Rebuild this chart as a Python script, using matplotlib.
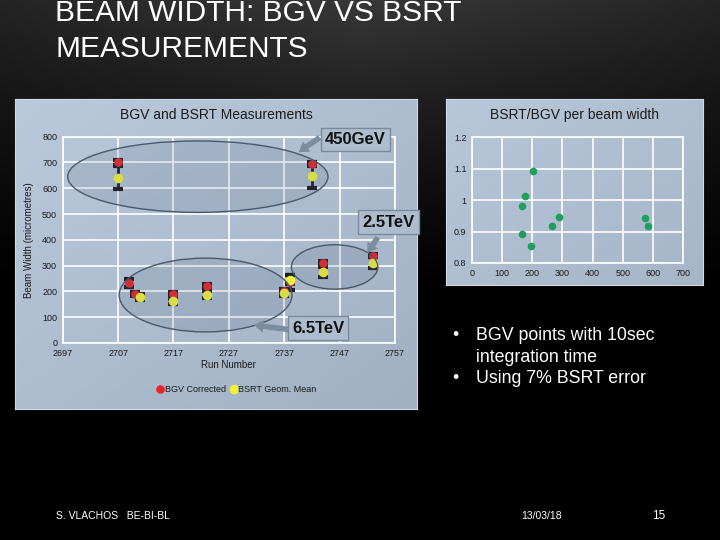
import numpy as np
import matplotlib
matplotlib.use("Agg")
import matplotlib.pyplot as plt
from matplotlib.patches import Ellipse

plt.rcParams["font.family"] = ["Liberation Sans", "DejaVu Sans"]

# left chart: BGV vs BSRT per run
runs = [2707, 2742, 2709, 2710, 2711, 2717, 2723, 2737, 2738, 2744, 2753]
bgv = [700, 693, 232, 191, np.nan, 191, 222, 200, 235, 310, 339]
bgv_err = [10, 8, 15, 8, 0, 8, 6, 8, 30, 8, 6]
bsrt = [641, 648, np.nan, np.nan, 178, 161, 187, 194, 245, 277, 312]
bsrt_err_frac = 0.07

# right chart: ratio vs beam width
width = [202, 175, 165, 167, 195, 264, 287, 575, 583]
ratio = [1.093, 1.013, 0.982, 0.893, 0.853, 0.919, 0.947, 0.943, 0.919]

# energy groups: (label, centre x, centre y, width, height)
groups = [
    ("450GeV", 2721.4, 645, 47.0, 277),
    ("6.5TeV", 2722.8, 186, 31.2, 286),
    ("2.5TeV", 2746.1, 295, 15.6, 172),
]

W, H = 720, 540
fig = plt.figure(figsize=(7.2, 5.4), dpi=100)

# slide background
bg = fig.add_axes([0, 0, 1, 1])
yy, xx = np.mgrid[0:H, 0:W]
v = 0.22 * np.clip(1 - yy / 300.0, 0, 1) ** 1.3 * (1 - 0.35 * np.abs(xx - 360) / 360.0)
bg.imshow(np.dstack([v, v, v]), extent=[0, W, H, 0], aspect="auto")
bg.set_xlim(0, W)
bg.set_ylim(H, 0)
bg.axis("off")


def panel(x0, y0, x1, y1, c0, c1):
    ax = fig.add_axes([x0 / W, 1 - y1 / H, (x1 - x0) / W, (y1 - y0) / H])
    gy, gx = np.mgrid[0:1:100j, 0:1:100j]
    t = (gx + gy) / 2
    img = np.dstack([c0[i] + (c1[i] - c0[i]) * t for i in range(3)])
    ax.imshow(img, extent=[0, 1, 0, 1], aspect="auto", origin="upper")
    for s in ax.spines.values():
        s.set_color("#d0dae4")
        s.set_linewidth(0.8)
    ax.set_xticks([])
    ax.set_yticks([])
    return ax


panel(15, 99, 417, 409, (0.73, 0.79, 0.86), (0.63, 0.69, 0.76))
panel(446, 99, 703, 285, (0.72, 0.78, 0.85), (0.65, 0.71, 0.78))

tick_kw = dict(labelsize=6.5, labelcolor="#1a1a1a", length=0, pad=4)

# left chart
ax = fig.add_axes([62.7 / W, 1 - 343 / H, (395 - 62.7) / W, (343 - 136.7) / H])
ax.set_facecolor("none")
ax.set_xlim(2697, 2757)
ax.set_ylim(0, 800)
ax.set_xticks(np.arange(2697, 2758, 10))
ax.set_yticks(np.arange(0, 801, 100))
ax.grid(True, color="white", lw=1.2, zorder=0)
ax.set_axisbelow(True)
for s in ax.spines.values():
    s.set_color("white")
    s.set_linewidth(1.2)
ax.tick_params(**tick_kw)
ax.set_xlabel("Run Number", fontsize=7, color="#1a1a1a", labelpad=2)
ax.set_ylabel("Beam Width (micrometres)", fontsize=7, color="#1a1a1a", labelpad=6)

runs_a = np.array(runs, dtype=float)
bgv_a = np.array(bgv, dtype=float)
bsrt_a = np.array(bsrt, dtype=float)
ax.errorbar(runs_a, bgv_a, yerr=bgv_err, fmt="none", ecolor="#1c1c24",
            elinewidth=2, capsize=3.5, capthick=3, zorder=2)
ax.errorbar(runs_a, bsrt_a, yerr=bsrt_a * bsrt_err_frac, fmt="none",
            ecolor="#1c1c24", elinewidth=2, capsize=3.5, capthick=3, zorder=2)
ax.scatter(runs_a, bgv_a, s=38, color="#e8262a", zorder=3, linewidths=0,
           label="BGV Corrected")
ax.scatter(runs_a, bsrt_a, s=48, color="#f2f23a", zorder=4, linewidths=0,
           label="BSRT Geom. Mean")

for label, cx, cy, ew, eh in groups:
    ax.add_patch(Ellipse((cx, cy), ew, eh, facecolor=(0.30, 0.38, 0.50, 0.14),
                         edgecolor="#4a586a", lw=1.0, zorder=5))

box_kw = dict(boxstyle="square,pad=0.25", fc="#aebdcd", ec="#7a8a9c", lw=1)
arrow_kw = dict(arrowstyle="simple,head_width=0.9,head_length=0.7,tail_width=0.4",
                color="#7d8da0", lw=0, shrinkA=0, shrinkB=0)
# box positions / arrow targets in data coords
ann = {
    "450GeV": ((2749.9, 790), (2743.4, 797), (2739.6, 740)),
    "2.5TeV": ((2755.8, 469), (2753.9, 410), (2752.0, 349)),
    "6.5TeV": ((2743.1, 58), (2737.8, 52), (2731.5, 70)),
}
for label, (pos, tail, head) in ann.items():
    ax.annotate("", xy=head, xytext=tail, arrowprops=arrow_kw,
                annotation_clip=False, zorder=6)
    ax.text(pos[0], pos[1], label, fontsize=12, fontweight="bold", ha="center",
            va="center", color="#111111", bbox=box_kw, zorder=7, clip_on=False)

leg = ax.legend(loc="center", bbox_to_anchor=(236 / W, 1 - 389 / H),
                bbox_transform=fig.transFigure, ncol=2, frameon=False,
                fontsize=6.5, handletextpad=0.0, columnspacing=0.4,
                handlelength=1.0, borderpad=0)
for t in leg.get_texts():
    t.set_color("#1a1a1a")

fig.text(216 / W, 1 - 115 / H, "BGV and BSRT Measurements", fontsize=10,
         ha="center", va="center", color="#1a1a1a")

# right chart
ax2 = fig.add_axes([472 / W, 1 - 263 / H, (683 - 472) / W, (263 - 137) / H])
ax2.set_facecolor("none")
ax2.set_xlim(0, 700)
ax2.set_ylim(0.8, 1.2)
ax2.set_xticks(np.arange(0, 701, 100))
ax2.set_yticks([0.8, 0.9, 1.0, 1.1, 1.2])
ax2.set_yticklabels(["0.8", "0.9", "1", "1.1", "1.2"])
ax2.grid(True, color="white", lw=1.2, zorder=0)
ax2.set_axisbelow(True)
for s in ax2.spines.values():
    s.set_color("white")
    s.set_linewidth(1.2)
ax2.tick_params(**tick_kw)
ax2.scatter(width, ratio, s=30, color="#1f9e5c", linewidths=0, zorder=3)
fig.text(574 / W, 1 - 115 / H, "BSRT/BGV per beam width", fontsize=10,
         ha="center", va="center", color="#1a1a1a")

# slide title
title_kw = dict(fontsize=21.5, color="white", va="baseline", ha="left")
fig.text(55 / W, 1 - 21 / H, "BEAM WIDTH: BGV VS BSRT", **title_kw)
fig.text(55 / W, 1 - 57 / H, "MEASUREMENTS", **title_kw)

# bullets
bul_kw = dict(fontsize=12.8, color="white", va="baseline", ha="left")
fig.text(452 / W, 1 - 340 / H, "\u2022", **bul_kw)
fig.text(476 / W, 1 - 340 / H, "BGV points with 10sec", **bul_kw)
fig.text(476 / W, 1 - 362 / H, "integration time", **bul_kw)
fig.text(452 / W, 1 - 383 / H, "\u2022", **bul_kw)
fig.text(476 / W, 1 - 383 / H, "Using 7% BSRT error", **bul_kw)

# footer
foot_kw = dict(fontsize=7.5, color="white", va="baseline", ha="left")
fig.text(56 / W, 1 - 519 / H, "S. VLACHOS   BE-BI-BL", **foot_kw)
fig.text(521 / W, 1 - 519 / H, "13/03/18", **foot_kw)
fig.text(652 / W, 1 - 519 / H, "15", fontsize=8.5, color="white", va="baseline")

fig.savefig("out.png", dpi=100)
